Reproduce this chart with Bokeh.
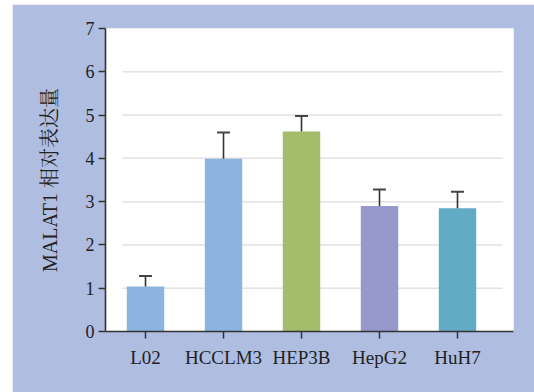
from bokeh.plotting import figure
from bokeh.models import ColumnDataSource, FixedTicker
from bokeh.embed import file_html
from bokeh.resources import INLINE

categories = ["L02", "HCCLM3", "HEP3B", "HepG2", "HuH7"]
values = [1.04, 3.99, 4.62, 2.90, 2.85]
err_top = [1.28, 4.60, 4.98, 3.28, 3.23]
colors = ["#8db3e0", "#8db3e0", "#a3bd6a", "#9798cc", "#62abc5"]
y_ticks = [0, 1, 2, 3, 4, 5, 6, 7]
grid_levels = [1, 2, 3, 4, 5, 6]

xs = list(range(len(categories)))

p = figure(width=522, height=388, output_backend="svg", toolbar_location=None,
           x_range=(-0.513, 4.718), y_range=(0, 7),
           min_border_left=93, min_border_top=24, min_border_right=21, min_border_bottom=61,
           margin=(4, 0, 0, 12))
p.border_fill_color = "#aebde0"
p.background_fill_color = "white"
p.outline_line_color = None
p.xgrid.visible = False
p.ygrid.visible = False

# grid segments
p.segment(x0=[-0.295] * len(grid_levels), x1=[4.577] * len(grid_levels),
          y0=grid_levels, y1=grid_levels, line_color="#e2e2e2", line_width=1.5)

src = ColumnDataSource(dict(x=xs, top=values, color=colors, err=err_top,
                            cl=[x - 0.083 for x in xs], cr=[x + 0.083 for x in xs]))
p.vbar(x="x", top="top", width=0.48, bottom=0, fill_color="color", line_color=None, source=src)
p.segment(x0="x", x1="x", y0="top", y1="err", line_color="#333333", line_width=1.6, source=src)
p.segment(x0="cl", x1="cr", y0="err", y1="err", line_color="#444444", line_width=2, source=src)

font = "'Liberation Serif', 'Noto Serif CJK SC', 'Noto Sans CJK SC'"

p.xaxis.ticker = FixedTicker(ticks=xs)
p.xaxis.major_label_overrides = {i: c for i, c in enumerate(categories)}
p.yaxis.ticker = FixedTicker(ticks=y_ticks)

for ax in (p.xaxis[0], p.yaxis[0]):
    ax.axis_line_color = "#333333"
    ax.axis_line_width = 1.6
    ax.major_tick_line_color = "#333333"
    ax.major_tick_line_width = 1.5
    ax.major_tick_in = 0
    ax.minor_tick_line_color = None
    ax.major_label_text_font = font
    ax.major_label_text_color = "#222222"

p.xaxis.major_tick_out = 7
p.xaxis.major_label_text_font_size = "19px"
p.xaxis.major_label_standoff = 8
p.yaxis.major_tick_out = 7
p.yaxis.major_label_text_font_size = "18px"
p.yaxis.major_label_standoff = 4

p.yaxis.axis_label = "MALAT1 相对表达量"
p.yaxis.axis_label_text_font = font
p.yaxis.axis_label_text_font_style = "normal"
p.yaxis.axis_label_text_font_size = "20px"
p.yaxis.axis_label_text_color = "#222222"
p.yaxis.axis_label_standoff = 22

open("out.html", "w").write(file_html(p, INLINE))
